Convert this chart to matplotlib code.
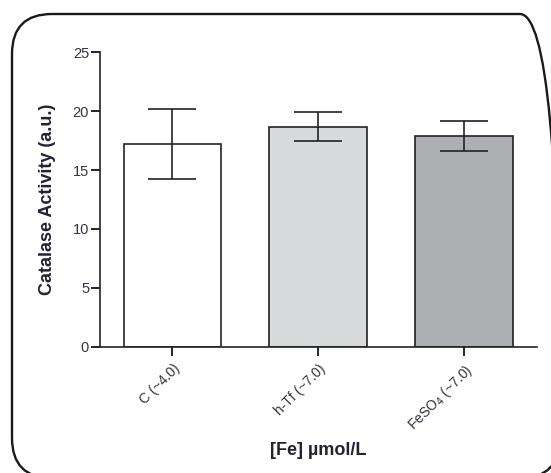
import matplotlib
matplotlib.use('Agg')
import matplotlib.pyplot as plt
from matplotlib.patches import FancyBboxPatch

plt.rcParams['font.family'] = ['Liberation Sans', 'DejaVu Sans']

# data
groups = ['C (~4.0)', 'h-Tf (~7.0)', 'FeSO$_4$ (~7.0)']
activity = [17.2, 18.7, 17.9]
err = [2.95, 1.25, 1.25]
colors = ['#ffffff', '#d9dadc', '#aeafb2']

fig = plt.figure(figsize=(5.51, 4.73), dpi=100)
ax = fig.add_axes([0.1806, 0.267, 0.794, 0.6224])

# rounded frame around everything (inches, so the corners stay round)
frame = FancyBboxPatch((0.12, -0.05), 5.48, 4.64,
                       boxstyle='round,pad=0,rounding_size=0.40',
                       transform=fig.dpi_scale_trans, fill=False,
                       edgecolor='#1a1a1a', linewidth=1.7, clip_on=False)
fig.patches.append(frame)

x = range(len(groups))
ax.bar(x, activity, width=0.67, color=colors, edgecolor='#222222', linewidth=1.2,
       yerr=err, capsize=17, error_kw=dict(elinewidth=1.2, capthick=1.2, ecolor='#222222'))

ax.set_xlim(-0.5, 2.5)
ax.set_ylim(0, 25)
ax.set_yticks([0, 5, 10, 15, 20, 25])
ax.set_xticks(list(x))
ax.set_xticklabels(groups, rotation=45, ha='right', rotation_mode='anchor', fontsize=10, color='#333344')
ax.tick_params(axis='y', length=6.5, width=1.2, labelsize=10.5, labelcolor='#333344', pad=1)
ax.tick_params(axis='x', length=6.5, width=1.2, pad=4)
for s in ['top', 'right']:
    ax.spines[s].set_visible(False)
for s in ['left', 'bottom']:
    ax.spines[s].set_linewidth(1.2)
    ax.spines[s].set_color('#222222')

ax.set_ylabel('Catalase Activity (a.u.)', fontsize=13, fontweight='bold', color='#222233', labelpad=12)
ax.set_xlabel('[Fe] µmol/L', fontsize=13, fontweight='bold', color='#222233', labelpad=6)

fig.savefig('out.png', dpi=100)
